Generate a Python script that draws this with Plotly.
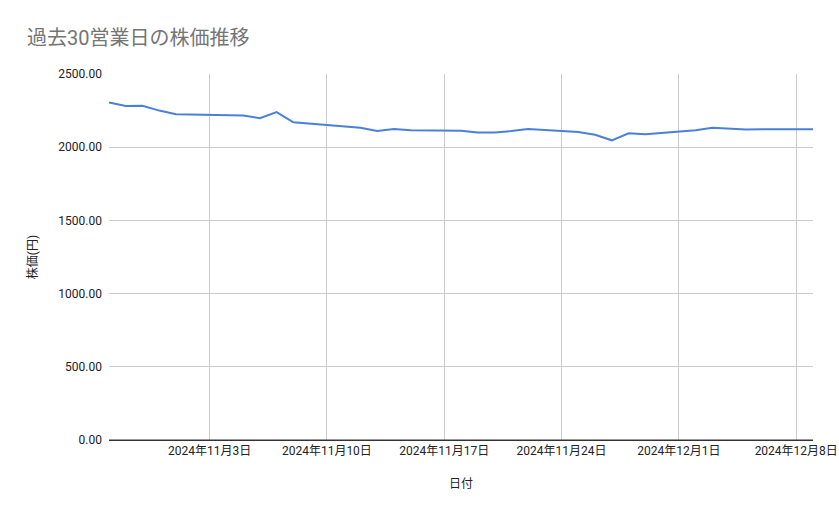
import plotly.graph_objects as go
import pandas as pd

dates = [
    "2024-10-28", "2024-10-29", "2024-10-30", "2024-10-31", "2024-11-01",
    "2024-11-05", "2024-11-06", "2024-11-07", "2024-11-08",
    "2024-11-11", "2024-11-12", "2024-11-13", "2024-11-14", "2024-11-15",
    "2024-11-18", "2024-11-19", "2024-11-20", "2024-11-21", "2024-11-22",
    "2024-11-25", "2024-11-26", "2024-11-27", "2024-11-28", "2024-11-29",
    "2024-12-02", "2024-12-03", "2024-12-04", "2024-12-05", "2024-12-06",
    "2024-12-09",
]
prices = [
    2306, 2281, 2283, 2250, 2225,
    2217, 2198, 2240, 2170,
    2139, 2133, 2111, 2124, 2115,
    2113, 2101, 2101, 2110, 2124,
    2103, 2085, 2047, 2095, 2088,
    2116, 2133, 2128, 2121, 2122,
    2122,
]
tick_dates = ["2024-11-03", "2024-11-10", "2024-11-17", "2024-11-24", "2024-12-01", "2024-12-08"]
tick_labels = [f"{pd.Timestamp(d).year}年{pd.Timestamp(d).month}月{pd.Timestamp(d).day}日" for d in tick_dates]

title_text = "過去30営業日の株価推移"
x_title = "日付"
y_title = "株価(円)"

FONT = "Roboto, 'Noto Sans CJK JP', sans-serif"

W, H = 839, 519

fig = go.Figure()
fig.add_trace(go.Scatter(
    x=dates, y=prices, mode="lines",
    line=dict(color="#4a80d9", width=2),
    showlegend=False,
))

fig.update_layout(
    width=W, height=H,
    margin=dict(l=109, r=26, t=74, b=79),
    paper_bgcolor="white", plot_bgcolor="white",
    font=dict(family=FONT, size=12, color="#222222"),
    title=dict(text=title_text, x=27 / W, xanchor="left", y=1 - 38 / H, yanchor="middle",
               font=dict(family=FONT, size=20, color="#757575")),
    xaxis=dict(
        range=["2024-10-28", "2024-12-09"],
        tickvals=tick_dates, ticktext=tick_labels,
        showgrid=True, gridcolor="#cccccc", gridwidth=1,
        showline=True, linecolor="#333333", linewidth=1,
        ticks="", zeroline=False, automargin=False,
        tickfont=dict(size=12, color="#222222"),
        title=dict(text=x_title, font=dict(size=12, color="#222222"), standoff=22),
    ),
    yaxis=dict(
        range=[0, 2500],
        tickvals=[0, 500, 1000, 1500, 2000, 2500],
        tickformat=".2f",
        showgrid=True, gridcolor="#cccccc", gridwidth=1,
        zeroline=False, showline=False, ticks="", automargin=False,
        ticklabelstandoff=6,
        tickfont=dict(size=12, color="#222222"),
        title=dict(text=y_title, font=dict(size=12, color="#222222"), standoff=18),
    ),
)
fig.add_shape(type="line", xref="paper", yref="y", x0=0, x1=1, y0=0, y1=0,
              line=dict(color="#333333", width=1))

# remove the browser's default page margin so the figure fills the window exactly
page_css = ("document.body.style.margin='0';"
            "document.documentElement.style.overflow='hidden';"
            "document.body.style.overflow='hidden';")

fig.write_html("out.html", post_script=page_css, config={"displayModeBar": False})
